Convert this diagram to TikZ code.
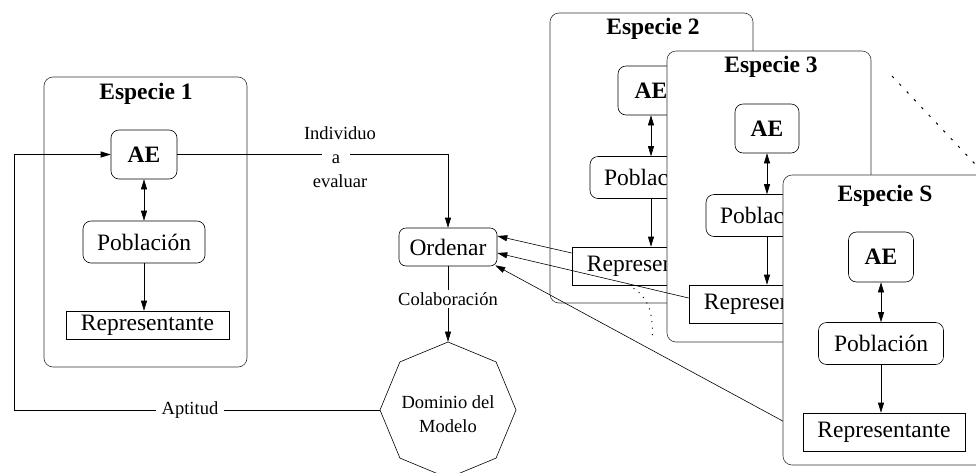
\documentclass[tikz,border=0pt]{standalone}
\usepackage{fontspec}
\setmainfont{Liberation Serif}
\usetikzlibrary{shapes.geometric,arrows.meta,calc}
\newcommand\bigf{\fontsize{23.5}{28}\selectfont\rmfamily}
\newcommand\smf{\fontsize{18.5}{24}\selectfont\rmfamily}
\begin{document}
\begin{tikzpicture}[x=1pt,y=-1pt,
  every node/.style={inner sep=0pt, font=\bigf},
  spbox/.style={draw=black!80, line width=0.6pt, rounded corners=9pt, fill=white, minimum width=203pt, minimum height=290pt},
  rbox/.style={draw, line width=0.6pt, rounded corners=8pt, fill=white},
  aebox/.style={rbox, minimum width=66pt, minimum height=49pt, font=\bigf\bfseries},
  pobbox/.style={rbox, minimum width=122pt, minimum height=42pt},
  repbox/.style={draw, line width=0.6pt, fill=white, minimum width=163pt, minimum height=38pt},
  ttl/.style={font=\bigf\bfseries, anchor=base},
  lbl/.style={font=\smf},
  conn/.style={line width=0.6pt},
  arr/.style={conn, -{Triangle[length=10pt,width=6pt]}},
  darr/.style={conn, {Triangle[length=10pt,width=6pt]}-{Triangle[length=10pt,width=6pt]}},
  dotline/.style={line width=1pt, dash pattern=on 1pt off 5.5pt},
  dashline/.style={line width=1pt, dash pattern=on 2.5pt off 8.2pt},
]
\useasboundingbox (0,0) rectangle (976,472);
\fill[white] (0,0) rectangle (976,472);

% ---------- Especie 1 ----------
\node[spbox] (sp1) at (145.5,222) {};
\node[ttl] (t1) at (146,99) {Especie 1};
\node[aebox] (ae1) at (144,154.5) {AE};
\node[pobbox] (pob1) at (144,242) {Población};
\node[repbox, minimum height=28pt] (rep1) at (147.5,325) {Representante};
\draw[darr] (ae1.south) -- (ae1.south |- pob1.north);
\draw[arr] (pob1.south) -- (pob1.south |- rep1.north);

% ---------- Ordenar / Dominio ----------
\node[rbox, rounded corners=7pt, minimum width=98pt, minimum height=38pt] (ord) at (448,247) {Ordenar};
\node[regular polygon, regular polygon sides=8, shape border rotate=22.5, minimum size=136pt,
      draw, line width=0.6pt] (dom) at (448,410) {};
\node[lbl, align=center] (domtxt) at (448,414) {Dominio del\\[0pt]Modelo};

\coordinate (lp) at (14,0);
\draw[arr] (dom.west) -- (dom.west -| lp) |- (ae1.west);
\node[lbl, fill=white, inner xsep=6pt, inner ysep=2pt] (apt) at (190,410) {Aptitud};

\draw[arr] (ae1.east) -- (ae1.east -| ord.north) -- (ord.north);
\node[lbl, anchor=base] (lind) at (340,139) {Individuo};
\node[lbl, anchor=base, fill=white, inner xsep=9.5pt, inner ysep=4pt] (la) at (336,163) {a};
\node[lbl, anchor=base] (lev) at (340,187) {evaluar};

\draw[arr] (ord.south) -- (dom.north);
\node[lbl, fill=white, inner xsep=2pt, inner ysep=2pt] (lcol) at (448,299) {Colaboración};

% ---------- Especie 2 ----------
\node[spbox] (sp2) at (651.5,158) {};
\node[ttl] (t2) at (653,34) {Especie 2};
\node[aebox] (ae2) at (651,90.5) {AE};
\node[pobbox] (pob2) at (651,177.5) {Población};
\node[repbox] (rep2) at (653.5,266) {Representante};
\draw[darr] (ae2.south) -- (ae2.south |- pob2.north);
\draw[arr] (pob2.south) -- (pob2.south |- rep2.north);

\coordinate (c2a) at (628,285);
\coordinate (c2b) at (652,340);
\draw[dotline] (c2a) .. controls (647,295) and (654,310) .. (c2b);

\draw[arr] ($(rep2.west)+(0,-13)$) -- ($(ord.east)+(0,-11)$);
\coordinate (repSw) at (803,432);
\draw[arr] (repSw) -- ($(ord.south east)+(-2,-1)$);

% ---------- Especie 3 ----------
\node[spbox, minimum width=204pt, minimum height=291pt] (sp3) at (769,196.5) {};
\node[ttl] (t3) at (771,72) {Especie 3};
\node[aebox, minimum width=64pt] (ae3) at (767,128.5) {AE};
\node[pobbox] (pob3) at (767,215.5) {Población};
\node[repbox] (rep3) at (770.5,304) {Representante};
\draw[darr] (ae3.south) -- (ae3.south |- pob3.north);
\draw[arr] (pob3.south) -- (pob3.south |- rep3.north);

\draw[arr] ($(rep3.west)+(0,-6)$) -- ($(ord.east)+(0,6)$);

% ---------- Especie S ----------
\node[spbox] (spS) at (884.5,320) {};
\node[ttl] (tS) at (885,201) {Especie S};
\node[aebox, minimum width=65pt, minimum height=50pt] (aeS) at (881,257) {AE};
\node[pobbox, minimum width=125pt] (pobS) at (881,343.5) {Población};
\node[repbox, minimum width=162pt] (repS) at (884,432) {Representante};
\draw[darr] (aeS.south) -- (aeS.south |- pobS.north);
\draw[arr] (pobS.south) -- (pobS.south |- repS.north);

% ---------- more species (dotted) ----------
\coordinate (m1) at (892,76);
\coordinate (m2) at (976,165);
\draw[dashline] (m1) -- (m2);
\end{tikzpicture}
\end{document}
